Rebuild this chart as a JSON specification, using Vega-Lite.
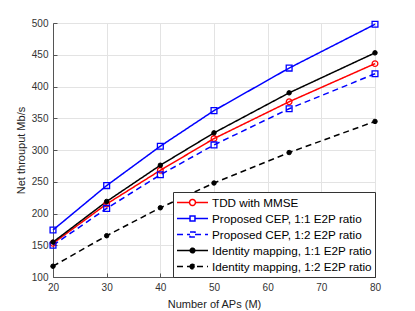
{
  "$schema": "https://vega.github.io/schema/vega-lite/v6.json",
  "width": 322,
  "height": 254,
  "autosize": {"type": "none"},
  "padding": {"left": 53, "top": 23, "right": 40, "bottom": 34},
  "background": "white",
  "config": {
    "font": "Liberation Sans",
    "view": {"stroke": "#555555", "strokeWidth": 1},
    "legend": {"symbolOpacity": 1},
    "axis": {"labelFont": "Liberation Sans", "titleFont": "Liberation Sans", "labelColor": "#333333", "titleColor": "#222222", "labelFontSize": 10, "titleFontSize": 11, "titleFontWeight": "normal", "domainColor": "#555555", "tickColor": "#555555", "gridColor": "#e3e3e3", "gridWidth": 1, "labelFlush": false}
  },
  "data": {"values": [
    {"M": 20, "s": "TDD with MMSE", "v": 153},
    {"M": 30, "s": "TDD with MMSE", "v": 215},
    {"M": 40, "s": "TDD with MMSE", "v": 268},
    {"M": 50, "s": "TDD with MMSE", "v": 318},
    {"M": 64, "s": "TDD with MMSE", "v": 376},
    {"M": 80, "s": "TDD with MMSE", "v": 436},
    {"M": 20, "s": "Proposed CEP, 1:1 E2P ratio", "v": 174},
    {"M": 30, "s": "Proposed CEP, 1:1 E2P ratio", "v": 244},
    {"M": 40, "s": "Proposed CEP, 1:1 E2P ratio", "v": 306},
    {"M": 50, "s": "Proposed CEP, 1:1 E2P ratio", "v": 362},
    {"M": 64, "s": "Proposed CEP, 1:1 E2P ratio", "v": 429},
    {"M": 80, "s": "Proposed CEP, 1:1 E2P ratio", "v": 498},
    {"M": 20, "s": "Proposed CEP, 1:2 E2P ratio", "v": 150},
    {"M": 30, "s": "Proposed CEP, 1:2 E2P ratio", "v": 208},
    {"M": 40, "s": "Proposed CEP, 1:2 E2P ratio", "v": 261},
    {"M": 50, "s": "Proposed CEP, 1:2 E2P ratio", "v": 308},
    {"M": 64, "s": "Proposed CEP, 1:2 E2P ratio", "v": 365},
    {"M": 80, "s": "Proposed CEP, 1:2 E2P ratio", "v": 420},
    {"M": 20, "s": "Identity mapping, 1:1 E2P ratio", "v": 155},
    {"M": 30, "s": "Identity mapping, 1:1 E2P ratio", "v": 219},
    {"M": 40, "s": "Identity mapping, 1:1 E2P ratio", "v": 276},
    {"M": 50, "s": "Identity mapping, 1:1 E2P ratio", "v": 327},
    {"M": 64, "s": "Identity mapping, 1:1 E2P ratio", "v": 390},
    {"M": 80, "s": "Identity mapping, 1:1 E2P ratio", "v": 453},
    {"M": 20, "s": "Identity mapping, 1:2 E2P ratio", "v": 117},
    {"M": 30, "s": "Identity mapping, 1:2 E2P ratio", "v": 165},
    {"M": 40, "s": "Identity mapping, 1:2 E2P ratio", "v": 209},
    {"M": 50, "s": "Identity mapping, 1:2 E2P ratio", "v": 248},
    {"M": 64, "s": "Identity mapping, 1:2 E2P ratio", "v": 296},
    {"M": 80, "s": "Identity mapping, 1:2 E2P ratio", "v": 345}
  ]},
  "encoding": {
    "x": {"field": "M", "type": "quantitative", "scale": {"domain": [20, 80], "nice": false, "zero": false},
      "axis": {"title": "Number of APs (M)", "values": [20, 30, 40, 50, 60, 70, 80], "tickSize": -4, "labelPadding": 9, "titlePadding": 6}},
    "y": {"field": "v", "type": "quantitative", "scale": {"domain": [100, 500], "nice": false, "zero": false},
      "axis": {"title": "Net throuput Mb/s", "values": [100, 150, 200, 250, 300, 350, 400, 450, 500], "tickSize": -4, "labelPadding": 9, "titlePadding": 5}},
    "stroke": {"field": "s", "type": "nominal",
      "scale": {"domain": ["TDD with MMSE", "Proposed CEP, 1:1 E2P ratio", "Proposed CEP, 1:2 E2P ratio", "Identity mapping, 1:1 E2P ratio", "Identity mapping, 1:2 E2P ratio"],
                "range": ["#ff0000", "#0000ff", "#0000ff", "#000000", "#000000"]},
      "legend": {"title": null, "orient": "bottom-right", "offset": 0, "fillColor": "white", "strokeColor": "#333333",
        "padding": 3, "rowPadding": 1, "clipHeight": 15, "labelOffset": 3, "labelFont": "Liberation Sans", "labelFontSize": 11.7, "labelColor": "#000000",
        "symbolSize": 961, "symbolStrokeWidth": 1.5, "symbolOpacity": 1}}
  },
  "layer": [
    {
      "mark": {"type": "line", "strokeWidth": 1.5},
      "encoding": {
        "strokeDash": {"field": "s", "type": "nominal",
          "scale": {"domain": ["TDD with MMSE", "Proposed CEP, 1:1 E2P ratio", "Proposed CEP, 1:2 E2P ratio", "Identity mapping, 1:1 E2P ratio", "Identity mapping, 1:2 E2P ratio"],
                    "range": [[1, 0], [1, 0], [6, 4], [1, 0], [6, 4]]}}
      }
    },
    {
      "transform": [{"filter": "datum.s === 'TDD with MMSE'"}],
      "mark": {"type": "point", "shape": "circle", "size": 32, "strokeWidth": 1.3, "opacity": 1, "filled": false}
    },
    {
      "transform": [{"filter": "indexof(datum.s, 'Proposed') >= 0"}],
      "mark": {"type": "point", "shape": "square", "size": 34, "strokeWidth": 1.3, "opacity": 1, "filled": false}
    },
    {
      "transform": [{"filter": "indexof(datum.s, 'Identity') >= 0"}],
      "mark": {"type": "point", "shape": "circle", "size": 20, "strokeWidth": 1, "opacity": 1, "fill": "#000000", "filled": true}
    },
    {
      "mark": {"type": "point", "opacity": 0, "strokeWidth": 1.5},
      "encoding": {
        "fill": {"field": "s", "type": "nominal",
          "scale": {"domain": ["TDD with MMSE", "Proposed CEP, 1:1 E2P ratio", "Proposed CEP, 1:2 E2P ratio", "Identity mapping, 1:1 E2P ratio", "Identity mapping, 1:2 E2P ratio"],
                    "range": ["transparent", "transparent", "transparent", "#000000", "#000000"]}},
        "shape": {"field": "s", "type": "nominal",
          "scale": {"domain": ["TDD with MMSE", "Proposed CEP, 1:1 E2P ratio", "Proposed CEP, 1:2 E2P ratio", "Identity mapping, 1:1 E2P ratio", "Identity mapping, 1:2 E2P ratio"],
                    "range": [
                      "M-1,0H-0.19M0.19,0H1M-0.19,0A0.19,0.19,0,1,1,0.19,0A0.19,0.19,0,1,1,-0.19,0Z",
                      "M-1,0H-0.16M0.16,0H1M-0.16,-0.16H0.16V0.16H-0.16Z",
                      "M-1,0H-0.16M0.16,0H1M-0.16,-0.16H0.16V0.16H-0.16Z",
                      "M-1,0H1M-0.15,0A0.15,0.15,0,1,1,0.15,0A0.15,0.15,0,1,1,-0.15,0Z",
                      "M-1,0H1M-0.15,0A0.15,0.15,0,1,1,0.15,0A0.15,0.15,0,1,1,-0.15,0Z"
                    ]}}
      }
    }
  ]
}
